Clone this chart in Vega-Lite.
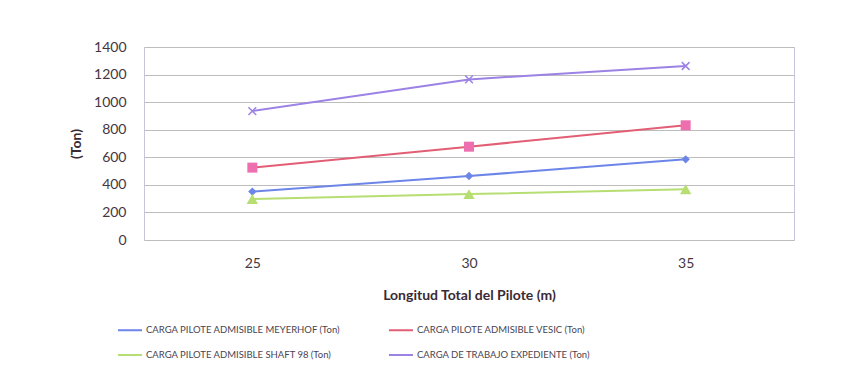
{
  "$schema": "https://vega.github.io/schema/vega-lite/v6.json",
  "width": 650,
  "height": 193,
  "autosize": {"type": "none"},
  "padding": {"left": 144, "top": 47, "right": 68, "bottom": 128},
  "background": "white",
  "config": {
    "font": "Lato",
    "view": {"stroke": "#c9c5de", "strokeWidth": 1},
    "axis": {
      "labelFont": "Lato",
      "labelFontSize": 14,
      "labelColor": "#45363f",
      "titleFont": "Lato",
      "titleColor": "#3a2a34",
      "titleFontSize": 14,
      "titleFontWeight": "bold",
      "ticks": false,
      "domain": false
    },
    "legend": {
      "labelFont": "Lato",
      "labelFontSize": 9.5,
      "labelColor": "#4a4452",
      "labelLimit": 400
    }
  },
  "data": {
    "values": [
      {"longitud": 25, "serie": "CARGA PILOTE ADMISIBLE MEYERHOF  (Ton)", "ton": 351},
      {"longitud": 30, "serie": "CARGA PILOTE ADMISIBLE MEYERHOF  (Ton)", "ton": 464},
      {"longitud": 35, "serie": "CARGA PILOTE ADMISIBLE MEYERHOF  (Ton)", "ton": 585},
      {"longitud": 25, "serie": "CARGA PILOTE ADMISIBLE VESIC  (Ton)", "ton": 525},
      {"longitud": 30, "serie": "CARGA PILOTE ADMISIBLE VESIC  (Ton)", "ton": 677},
      {"longitud": 35, "serie": "CARGA PILOTE ADMISIBLE VESIC  (Ton)", "ton": 832},
      {"longitud": 25, "serie": "CARGA PILOTE ADMISIBLE SHAFT 98  (Ton)", "ton": 297},
      {"longitud": 30, "serie": "CARGA PILOTE ADMISIBLE SHAFT 98  (Ton)", "ton": 333},
      {"longitud": 35, "serie": "CARGA PILOTE ADMISIBLE SHAFT 98  (Ton)", "ton": 368},
      {"longitud": 25, "serie": "CARGA DE TRABAJO EXPEDIENTE (Ton)", "ton": 935},
      {"longitud": 30, "serie": "CARGA DE TRABAJO EXPEDIENTE (Ton)", "ton": 1165},
      {"longitud": 35, "serie": "CARGA DE TRABAJO EXPEDIENTE (Ton)", "ton": 1262}
    ]
  },
  "encoding": {
    "x": {
      "field": "longitud",
      "type": "ordinal",
      "scale": {"type": "point", "padding": 0.5},
      "axis": {
        "title": "Longitud Total del Pilote (m)",
        "labelAngle": 0,
        "labelPadding": 16,
        "titlePadding": 18,
        "grid": false
      }
    },
    "y": {
      "field": "ton",
      "type": "quantitative",
      "scale": {"domain": [0, 1400], "nice": false},
      "axis": {
        "title": "(Ton)",
        "format": "d",
        "values": [0, 200, 400, 600, 800, 1000, 1200, 1400],
        "labelPadding": 18,
        "titlePadding": 10,
        "grid": true,
        "gridColor": "#bdbdbd",
        "gridWidth": 1
      }
    }
  },
  "resolve": {"legend": {"shape": "independent", "fill": "independent", "size": "independent", "color": "independent"}},
  "layer": [
    {
      "mark": {"type": "line", "strokeWidth": 2},
      "encoding": {
        "color": {
          "field": "serie",
          "type": "nominal",
          "sort": null,
          "scale": {
            "domain": [
              "CARGA PILOTE ADMISIBLE MEYERHOF  (Ton)",
              "CARGA PILOTE ADMISIBLE VESIC  (Ton)",
              "CARGA PILOTE ADMISIBLE SHAFT 98  (Ton)",
              "CARGA DE TRABAJO EXPEDIENTE (Ton)"
            ],
            "range": ["#6c85e8", "#e25e74", "#b6de72", "#9b82e4"]
          },
          "legend": {
            "title": null,
            "orient": "none",
            "direction": "horizontal",
            "legendX": -27,
            "legendY": 270,
            "columns": 2,
            "symbolType": "stroke",
            "symbolSize": 576,
            "symbolStrokeWidth": 2,
            "labelOffset": 3,
            "columnPadding": 42,
            "rowPadding": 7
          }
        }
      }
    },
    {
      "transform": [{"filter": "datum.serie !== 'CARGA DE TRABAJO EXPEDIENTE (Ton)'"}],
      "mark": {"type": "point", "filled": true, "opacity": 1},
      "encoding": {
        "shape": {
          "field": "serie",
          "type": "nominal",
          "scale": {
            "domain": [
              "CARGA PILOTE ADMISIBLE MEYERHOF  (Ton)",
              "CARGA PILOTE ADMISIBLE VESIC  (Ton)",
              "CARGA PILOTE ADMISIBLE SHAFT 98  (Ton)"
            ],
            "range": ["diamond", "square", "triangle-up"]
          },
          "legend": null
        },
        "fill": {
          "field": "serie",
          "type": "nominal",
          "scale": {
            "domain": [
              "CARGA PILOTE ADMISIBLE MEYERHOF  (Ton)",
              "CARGA PILOTE ADMISIBLE VESIC  (Ton)",
              "CARGA PILOTE ADMISIBLE SHAFT 98  (Ton)"
            ],
            "range": ["#6c85e8", "#ee6fb0", "#b6de72"]
          },
          "legend": null
        },
        "size": {
          "field": "serie",
          "type": "nominal",
          "scale": {
            "domain": [
              "CARGA PILOTE ADMISIBLE MEYERHOF  (Ton)",
              "CARGA PILOTE ADMISIBLE VESIC  (Ton)",
              "CARGA PILOTE ADMISIBLE SHAFT 98  (Ton)"
            ],
            "range": [70, 130, 60]
          },
          "legend": null
        }
      }
    },
    {
      "transform": [{"filter": "datum.serie === 'CARGA DE TRABAJO EXPEDIENTE (Ton)'"}],
      "mark": {"type": "point", "shape": "M-1,-1L1,1M-1,1L1,-1", "filled": false, "size": 60, "strokeWidth": 1.5, "color": "#9b82e4", "opacity": 1}
    }
  ]
}
